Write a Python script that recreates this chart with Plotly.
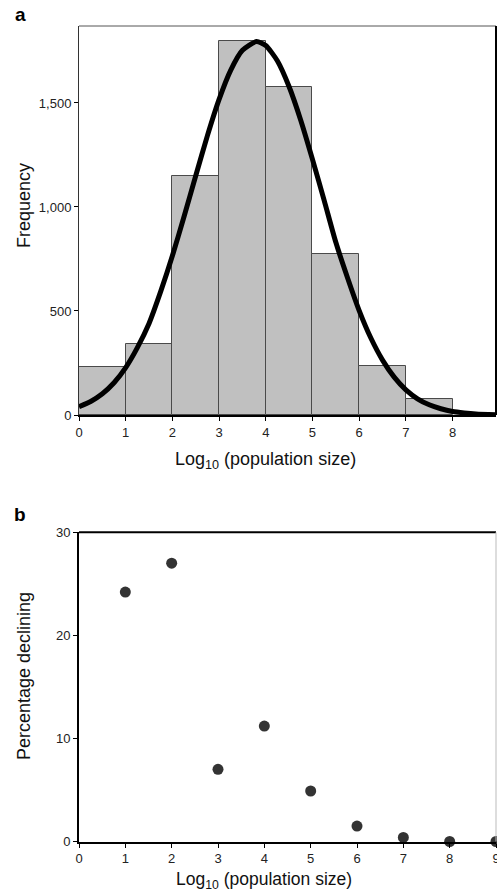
import plotly.graph_objects as go

# ---------------- data ----------------
# Panel a: histogram of log10 population size
bin_start = [0, 1, 2, 3, 4, 5, 6, 7]
frequency = [229, 340, 1150, 1800, 1575, 774, 235, 75]

# fitted curve
curve_x = [0, 0.25, 0.5, 0.75, 1.0, 1.25, 1.5, 1.75, 2.0, 2.25, 2.5, 2.75, 3.0, 3.25, 3.5,
           3.8, 4.0, 4.25, 4.5, 4.75, 5.0, 5.25, 5.5, 5.75, 6.0, 6.25, 6.5, 6.75, 7.0,
           7.25, 7.5, 7.75, 8.0, 8.25, 8.5, 8.93]
curve_y = [40, 65, 102, 155, 228, 324, 440, 594, 765, 954, 1150, 1343, 1517, 1658, 1753,
           1795, 1776, 1702, 1578, 1416, 1229, 1032, 830, 660, 502, 370, 264, 182, 121,
           78, 49, 30, 17, 10, 5, 1]

# Panel b: percentage declining
pop_log = [1, 2, 3, 4, 5, 6, 7, 8, 9]
pct_declining = [24.2, 27.0, 7.0, 11.2, 4.9, 1.5, 0.4, 0.0, 0.0]

freq_ticks = [0, 500, 1000, 1500]
pct_ticks = [0, 10, 20, 30]

# ---------------- figure ----------------
W, H = 497, 893
FONT = "Liberation Sans, Arial, Helvetica, sans-serif"

def py(px):
    return 1 - px / H

def pxx(px):
    return px / W

fig = go.Figure()

fig.add_trace(go.Bar(
    x=bin_start, y=frequency, width=1, offset=0,
    marker=dict(color="#c0c0c0", line=dict(color="#4a4a4a", width=1)),
    xaxis="x", yaxis="y", showlegend=False,
))
fig.add_trace(go.Scatter(
    x=curve_x, y=curve_y, mode="lines",
    line=dict(color="black", width=5, shape="spline", smoothing=0.6),
    xaxis="x", yaxis="y", showlegend=False, cliponaxis=False,
))
fig.add_trace(go.Scatter(
    x=pop_log, y=pct_declining, mode="markers",
    marker=dict(color="#333333", size=11, line=dict(width=0)),
    xaxis="x2", yaxis="y2", showlegend=False, cliponaxis=False,
))

xdom = [pxx(79), pxx(496)]
tickfont = dict(family=FONT, size=13, color="#222")

axis_common = dict(ticks="outside", ticklen=4, tickwidth=1, tickcolor="black",
                   showgrid=False, zeroline=False, automargin=False, tickfont=tickfont)

fig.update_layout(
    width=W, height=H,
    margin=dict(l=0, r=0, t=0, b=0),
    paper_bgcolor="white", plot_bgcolor="white",
    font=dict(family=FONT, color="#111"),
    bargap=0,
    xaxis=dict(domain=xdom, range=[0, 8.93], tickvals=list(range(0, 9)),
               showline=True, linecolor="black", linewidth=2, anchor="y", **axis_common),
    yaxis=dict(domain=[py(415), py(26)], range=[0, 1870], tickvals=freq_ticks,
               tickformat=",", showline=True, linecolor="#333", linewidth=1, anchor="x",
               **axis_common),
    xaxis2=dict(domain=xdom, range=[0, 9], tickvals=list(range(0, 10)),
                ticklabeloverflow="allow",
                showline=True, linecolor="black", linewidth=2, anchor="y2", **axis_common),
    yaxis2=dict(domain=[py(841.5), py(532.3)], range=[0, 30], tickvals=pct_ticks,
                showline=True, linecolor="black", linewidth=2, anchor="x2", **axis_common),
)

# frame lines (top/right) of each panel
fig.add_shape(type="line", xref="x domain", yref="y domain", x0=0, x1=1, y0=1, y1=1,
              line=dict(color="#555", width=1))
fig.add_shape(type="line", xref="x domain", yref="y domain", x0=1, x1=1, y0=0, y1=1,
              line=dict(color="black", width=2))
fig.add_shape(type="line", xref="x2 domain", yref="y2 domain", x0=0, x1=1, y0=1, y1=1,
              line=dict(color="black", width=2))
fig.add_shape(type="line", xref="x2 domain", yref="y2 domain", x0=1, x1=1, y0=0, y1=1,
              line=dict(color="#bbb", width=1))

title_font = dict(family=FONT, size=18, color="#111")
anns = [
    dict(text="<b>a</b>", x=pxx(20), y=py(15), font=dict(family=FONT, size=19, color="black")),
    dict(text="<b>b</b>", x=pxx(20), y=py(514), font=dict(family=FONT, size=19, color="black")),
    dict(text="Log<sub>10</sub> (population size)", x=pxx(265), y=py(460), font=title_font),
    dict(text="Log<sub>10</sub> (population size)", x=pxx(264), y=py(880),
         font=dict(family=FONT, size=17.5, color="#111")),
    dict(text="Frequency", x=pxx(24), y=py(206), textangle=-90, font=title_font),
    dict(text="Percentage declining", x=pxx(24), y=py(676), textangle=-90, font=title_font),
]
for a in anns:
    fig.add_annotation(xref="paper", yref="paper", xanchor="center", yanchor="middle",
                       showarrow=False, **a)

fig.write_html("out.html",
               config={"displayModeBar": False},
               post_script="document.body.style.margin='0';document.body.style.overflow='hidden';")
